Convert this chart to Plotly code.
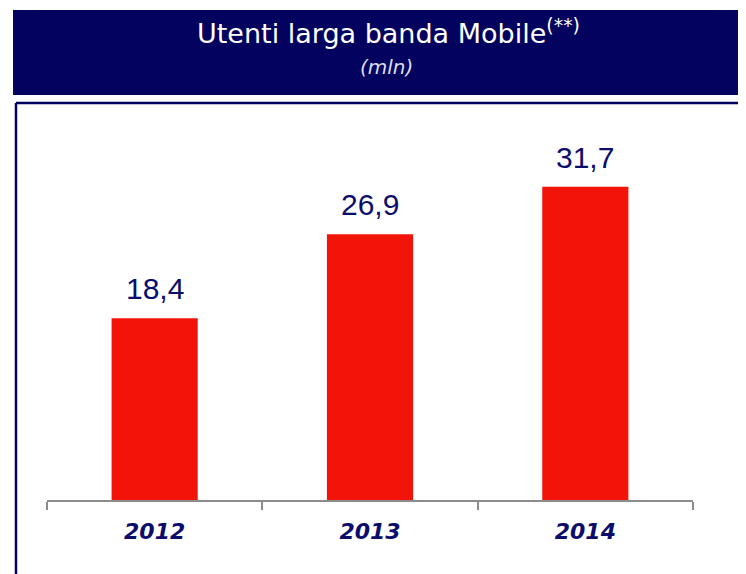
import plotly.graph_objects as go

# data
years = ["2012", "2013", "2014"]
users_mln = [18.4, 26.9, 31.7]
value_labels = ["18,4", "26,9", "31,7"]

navy = "#03035f"
red = "#f21409"

fig = go.Figure()
fig.add_trace(go.Bar(
    x=years, y=users_mln, width=0.4,
    marker=dict(color=red, line=dict(width=0)),
    hoverinfo="skip", showlegend=False,
))

# value labels above the bars (category axis -> position by index)
for i, (v, lab) in enumerate(zip(users_mln, value_labels)):
    fig.add_annotation(x=i, y=v, text=lab, showarrow=False, xanchor="center", yanchor="bottom", yshift=11,
                       font=dict(family="Liberation Sans, Arial", size=30, color="#0c0c6c"))

# header band + frame lines
fig.add_shape(type="rect", xref="paper", yref="paper", x0=-0.0526, x1=1.1, y0=1.0658, y1=1.2895,
              fillcolor=navy, line=dict(width=0), layer="below")
fig.add_shape(type="line", xref="paper", yref="paper", x0=-0.048, x1=1.1, y0=1.0447, y1=1.0447,
              line=dict(color=navy, width=2.5))
fig.add_shape(type="line", xref="paper", yref="paper", x0=-0.048, x1=-0.048, y0=1.0447, y1=-0.3,
              line=dict(color=navy, width=2.5))

fig.add_annotation(xref="paper", yref="paper", x=0.528, y=1.234, xanchor="center", yanchor="middle",
                   showarrow=False, text="Utenti larga banda Mobile<sup>(**)</sup>",
                   font=dict(family="DejaVu Sans", size=27, color="white"))
fig.add_annotation(xref="paper", yref="paper", x=0.525, y=1.1395, xanchor="center", yanchor="middle",
                   showarrow=False, text="<i>(mln)</i>",
                   font=dict(family="DejaVu Sans", size=20, color="#dcdcec"))

# page body has an 8px margin, so the figure is a bit smaller than the window
fig.update_layout(
    width=738, height=566,
    margin=dict(l=39, r=53, t=112, b=74),
    plot_bgcolor="white", paper_bgcolor="white",
    xaxis=dict(
        type="category", range=[-0.5, 2.5],
        showline=True, linecolor="#8c8c8c", linewidth=2,
        ticks="outside", tickson="boundaries", ticklen=8, tickwidth=2, tickcolor="#8c8c8c",
        ticklabelstandoff=11,
        tickfont=dict(family="DejaVu Sans", size=22, color="#0c0c6c", style="italic", weight="bold"),
        showgrid=False,
    ),
    yaxis=dict(range=[0, 38.46], visible=False, showgrid=False, zeroline=False),
)

fig.write_html("out.html")
